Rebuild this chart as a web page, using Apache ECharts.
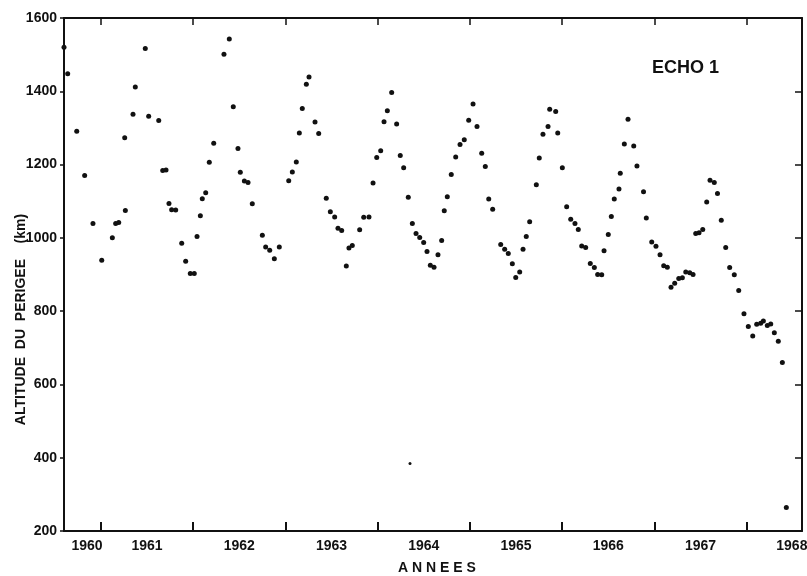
<!DOCTYPE html>
<html>
<head>
<meta charset="utf-8">
<script src="https://cdn.jsdelivr.net/npm/echarts@6/dist/echarts.min.js"></script>
<style>
  html, body { margin: 0; padding: 0; background: #fff; }
  #chart { width: 807px; height: 576px; }
</style>
</head>
<body>
<div id="chart"></div>
<script>
// date (decimal year) and perigee altitude (km)
var years = [
  1960.60, 1960.640, 1960.738, 1960.824, 1960.914, 1961.009, 1961.124, 1961.160, 1961.193, 1961.258,
  1961.265, 1961.348, 1961.373, 1961.481, 1961.518, 1961.627, 1961.670, 1961.706, 1961.738, 1961.767,
  1961.811, 1961.876, 1961.919, 1961.969, 1962.012, 1962.042, 1962.078, 1962.099, 1962.136, 1962.175,
  1962.223, 1962.334, 1962.392, 1962.435, 1962.486, 1962.511, 1962.555, 1962.595, 1962.641, 1962.750,
  1962.786, 1962.830, 1962.880, 1962.934, 1963.036, 1963.075, 1963.118, 1963.151, 1963.183, 1963.227,
  1963.256, 1963.321, 1963.361, 1963.443, 1963.487, 1963.534, 1963.570, 1963.610, 1963.660, 1963.689,
  1963.725, 1963.805, 1963.849, 1963.906, 1963.950, 1963.990, 1964.033, 1964.069, 1964.105, 1964.152,
  1964.206, 1964.245, 1964.282, 1964.332, 1964.376, 1964.416, 1964.456, 1964.499, 1964.535, 1964.571,
  1964.611, 1964.654, 1964.694, 1964.722, 1964.755, 1964.798, 1964.846, 1964.893, 1964.939, 1964.987,
  1965.034, 1965.077, 1965.128, 1965.167, 1965.204, 1965.247, 1965.334, 1965.377, 1965.416, 1965.460,
  1965.497, 1965.540, 1965.576, 1965.611, 1965.648, 1965.720, 1965.752, 1965.792, 1965.847, 1965.865,
  1965.930, 1965.952, 1966.002, 1966.049, 1966.093, 1966.139, 1966.175, 1966.212, 1966.255, 1966.305,
  1966.349, 1966.385, 1966.429, 1966.454, 1966.500, 1966.533, 1966.565, 1966.616, 1966.630, 1966.674,
  1966.714, 1966.776, 1966.811, 1966.882, 1966.912, 1966.971, 1967.017, 1967.061, 1967.101, 1967.140,
  1967.180, 1967.220, 1967.264, 1967.303, 1967.340, 1967.383, 1967.419, 1967.448, 1967.484, 1967.524,
  1967.567, 1967.603, 1967.649, 1967.684, 1967.725, 1967.773, 1967.816, 1967.866, 1967.914, 1967.971,
  1968.018, 1968.066, 1968.109, 1968.152, 1968.181, 1968.224, 1968.261, 1968.300, 1968.343, 1968.387,
  1968.430
]
var perigee = [
  1520, 1448, 1291, 1170, 1039, 939, 1000, 1039, 1042, 1273,
  1075, 1337, 1412, 1517, 1332, 1320, 1184, 1185, 1094, 1077,
  1076, 985, 936, 903, 903, 1004, 1060, 1107, 1123, 1206,
  1258, 1501, 1543, 1358, 1244, 1179, 1155, 1151, 1093, 1007,
  975, 966, 943, 975, 1156, 1180, 1207, 1286, 1353, 1419,
  1439, 1316, 1285, 1108, 1071, 1057, 1026, 1020, 923, 972,
  979, 1022, 1056, 1057, 1150, 1219, 1238, 1317, 1347, 1397,
  1311, 1225, 1191, 1111, 1039, 1012, 1001, 987, 963, 925,
  920, 954, 993, 1074, 1112, 1173, 1221, 1255, 1268, 1321,
  1365, 1304, 1231, 1195, 1106, 1078, 982, 969, 957, 929,
  892, 907, 969, 1004, 1044, 1145, 1218, 1283, 1304, 1351,
  1345, 1286, 1191, 1085, 1051, 1039, 1023, 978, 974, 930,
  919, 900, 899, 965, 1009, 1058, 1106, 1133, 1176, 1256,
  1324, 1251, 1196, 1126, 1054, 989, 977, 954, 924, 920,
  865, 876, 889, 891, 907, 905, 900, 1012, 1014, 1023,
  1098, 1157, 1151, 1121, 1048, 974, 919, 899, 856, 793,
  758, 732, 764, 767, 773, 761, 765, 741, 718, 660,
  264
]
// the lone low point in 1964 (drawn smaller in the original)
var oddYear = [1964.351]
var oddPerigee = [384]

var yearTicks = [1961, 1962, 1963, 1964, 1965, 1966, 1967, 1968]
var yearLabelPos = [1960.85, 1961.5, 1962.5, 1963.5, 1964.5, 1965.5, 1966.5, 1967.5, 1968.49]

var font = 'Liberation Sans'
var ink = '#111'

var pts = years.map(function (y, i) { return [y, perigee[i]] })
var oddPts = oddYear.map(function (y, i) { return [y, oddPerigee[i]] })

var chart = echarts.init(document.getElementById('chart'))
var option = {
  backgroundColor: '#fff',
  animation: false,
  title: {
    text: 'ECHO 1',
    left: 652,
    top: 59,
    padding: 0,
    textStyle: { fontFamily: font, fontSize: 18, fontWeight: 'bold', color: ink }
  },
  grid: { left: 64, right: 5, top: 18, bottom: 45, containLabel: false, outerBoundsMode: 'none' },
  xAxis: [
    {
      type: 'value',
      min: 1960.6,
      max: 1968.6,
      name: 'A N N E E S',
      nameLocation: 'middle',
      nameGap: 30,
      nameMoveOverlap: false,
      nameTextStyle: { fontFamily: font, fontSize: 14, fontWeight: 'bold', color: ink, padding: [0, 0, 0, 8] },
      axisLine: { show: true, lineStyle: { color: ink, width: 2 } },
      axisTick: { show: true, inside: true, length: 9, customValues: yearTicks, lineStyle: { color: ink, width: 2 } },
      axisLabel: {
        customValues: yearLabelPos,
        margin: 8,
        fontFamily: font, fontSize: 14, fontWeight: 'bold', color: ink,
        formatter: function (v) { return String(Math.floor(v)) }
      },
      splitLine: { show: false }
    },
    {
      type: 'value',
      position: 'top',
      min: 1960.6,
      max: 1968.6,
      axisLine: { show: true, lineStyle: { color: ink, width: 2 } },
      axisTick: { show: true, inside: true, length: 7, customValues: yearTicks, lineStyle: { color: ink, width: 1.5 } },
      axisLabel: { show: false },
      splitLine: { show: false }
    }
  ],
  yAxis: [
    {
      type: 'value',
      min: 200,
      max: 1600,
      interval: 200,
      name: 'ALTITUDE  DU  PERIGEE    (km)',
      nameLocation: 'middle',
      nameGap: 36,
      nameMoveOverlap: false,
      nameTextStyle: { fontFamily: font, fontSize: 14, fontWeight: 'bold', color: ink, padding: [0, 90, 0, 0] },
      axisLine: { show: true, lineStyle: { color: ink, width: 2 } },
      axisTick: { show: true, length: 4, lineStyle: { color: ink, width: 1.5 } },
      axisLabel: {
        margin: 7, fontFamily: font, fontSize: 14, fontWeight: 'bold', color: ink,
        formatter: function (v) { return String(v) }
      },
      splitLine: { show: false }
    },
    {
      type: 'value',
      position: 'right',
      min: 200,
      max: 1600,
      interval: 200,
      axisLine: { show: true, lineStyle: { color: ink, width: 2 } },
      axisTick: { show: true, inside: true, length: 7, lineStyle: { color: ink, width: 1.5 } },
      axisLabel: { show: false },
      splitLine: { show: false }
    }
  ],
  series: [
    {
      type: 'scatter',
      data: pts,
      symbol: 'circle',
      symbolSize: 5,
      itemStyle: { color: ink, opacity: 1 }
    },
    {
      type: 'scatter',
      data: oddPts,
      symbol: 'circle',
      symbolSize: 3,
      itemStyle: { color: ink, opacity: 1 }
    }
  ]
}
chart.setOption(option)
</script>
</body>
</html>
